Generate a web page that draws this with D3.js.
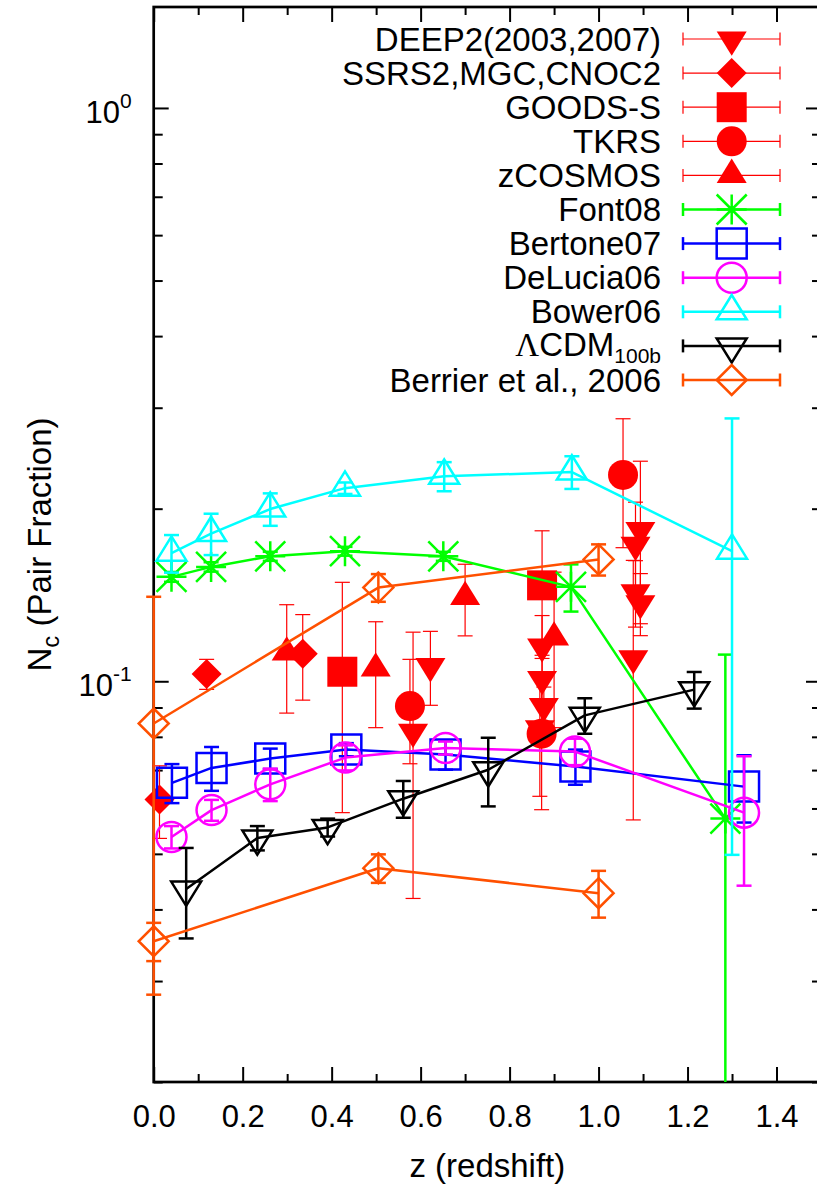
<!DOCTYPE html>
<html>
<head>
<meta charset="utf-8">
<script src="https://cdn.jsdelivr.net/npm/d3@7"></script>
<style>
  body { margin: 0; background: #fff; }
  svg { display: block; }
  text { font-family: "Liberation Sans", Arial, Helvetica, sans-serif; fill: #000; }
</style>
</head>
<body>
<svg id="chart" width="817" height="1185"></svg>
<script>
// Close-pair fraction N_c against redshift: observed samples (filled red symbols)
// and model predictions (open symbols joined by lines).

const zMajorTicks = [0, 0.2, 0.4, 0.6, 0.8, 1.0, 1.2, 1.4];
const zMinorTicks = [0.1, 0.3, 0.5, 0.7, 0.9, 1.1, 1.3];
const nMajorTicks = [0.1, 1];
const nMajorLabels = [["10", "-1"], ["10", "0"]];
const nMinorTicks = [0.02, 0.03, 0.04, 0.05, 0.06, 0.07, 0.08, 0.09,
                     0.2, 0.3, 0.4, 0.5, 0.6, 0.7, 0.8, 0.9];

// Each row: [z, N_c, error]
const deep2 = [
  [0.583, 0.0818, 0.040],
  [0.622, 0.1065, 0.0157],
  [0.873, 0.1152, 0.015],
  [0.873, 0.1011, 0.0085],
  [0.877, 0.0907, 0.007],
  [0.868, 0.0830, 0.020],
  [1.094, 0.184, 0.058],
  [1.083, 0.1733, 0.032],
  [1.083, 0.1433, 0.019],
  [1.094, 0.1371, 0.017],
  [1.078, 0.1099, 0.0526]
];
const ssrsMgcCnoc = [
  [0.013, 0.0622, 0.009],
  [0.119, 0.103, 0.0062],
  [0.335, 0.1117, 0.019]
];
const goodsS = [
  [0.424, 0.1039, 0.0449],
  [0.873, 0.147, 0.036]
];
const tkrs = [
  [0.576, 0.0905, 0.0187],
  [1.055, 0.229, 0.058],
  [0.872, 0.081, 0.0213]
];
const zcosmos = [
  [0.299, 0.112, 0.024],
  [0.499, 0.105, 0.022],
  [0.700, 0.140, 0.020],
  [0.900, 0.119, 0.036]
];
const font08 = [
  [0.040, 0.1521, 0.003],
  [0.129, 0.1583, 0.003],
  [0.262, 0.1652, 0.003],
  [0.430, 0.1686, 0.003],
  [0.651, 0.1652, 0.003],
  [0.938, 0.1461, 0.0138],
  [1.285, 0.0576, 0.0537]
];
const bertone07 = [
  [0.041, 0.0665, 0.0052],
  [0.130, 0.0706, 0.0062],
  [0.262, 0.0733, 0.003],
  [0.433, 0.0760, 0.002],
  [0.656, 0.0745, 0.0044],
  [0.948, 0.0710, 0.005],
  [1.327, 0.0655, 0.0088]
];
const deLucia06 = [
  [0.040, 0.0535, 0.0024],
  [0.130, 0.0596, 0.0025],
  [0.262, 0.0661, 0.0043],
  [0.431, 0.0736, 0.0037],
  [0.656, 0.0765, 0.002],
  [0.947, 0.0754, 0.004],
  [1.327, 0.0590, 0.015]
];
const bower06 = [
  [0.040, 0.1673, 0.0126],
  [0.129, 0.1810, 0.015],
  [0.262, 0.1997, 0.013],
  [0.430, 0.2172, 0.005],
  [0.653, 0.2278, 0.0133],
  [0.940, 0.2317, 0.0152],
  [1.300, 0.1686, 0.1188]
];
const lcdm100b = [
  [0.073, 0.0434, 0.0078],
  [0.233, 0.0533, 0.0026],
  [0.391, 0.0556, 0.002],
  [0.561, 0.0624, 0.0046],
  [0.752, 0.0701, 0.0096],
  [0.969, 0.0872, 0.0062],
  [1.215, 0.0967, 0.0071]
];
const berrierHigh = [
  [0.000, 0.0844, 0.056],
  [0.505, 0.1457, 0.0081],
  [1.000, 0.1631, 0.0102]
];
const berrierLow = [
  [0.000, 0.0352, 0.0027],
  [0.505, 0.0472, 0.0027],
  [1.000, 0.0427, 0.004]
];

const RED = "#ff0000", GREEN = "#00ff00", BLUE = "#0000ff",
      MAGENTA = "#ff00ff", CYAN = "#00ffff", BLACK = "#000000", ORANGE = "#ff5000";

const series = [
  { label: "DEEP2(2003,2007)", data: deep2, shape: "triDown", color: RED, filled: true, joined: false },
  { label: "SSRS2,MGC,CNOC2", data: ssrsMgcCnoc, shape: "diamond", color: RED, filled: true, joined: false },
  { label: "GOODS-S", data: goodsS, shape: "square", color: RED, filled: true, joined: false },
  { label: "TKRS", data: tkrs, shape: "circle", color: RED, filled: true, joined: false },
  { label: "zCOSMOS", data: zcosmos, shape: "triUp", color: RED, filled: true, joined: false },
  { label: "Font08", data: font08, shape: "star", color: GREEN, filled: false, joined: true },
  { label: "Bertone07", data: bertone07, shape: "square", color: BLUE, filled: false, joined: true },
  { label: "DeLucia06", data: deLucia06, shape: "circle", color: MAGENTA, filled: false, joined: true },
  { label: "Bower06", data: bower06, shape: "triUp", color: CYAN, filled: false, joined: true },
  { label: ["\u039B", "CDM", "100b"], data: lcdm100b, shape: "triDown", color: BLACK, filled: false, joined: true },
  { label: "Berrier et al., 2006", data: berrierHigh, shape: "diamond", color: ORANGE, filled: false, joined: true },
  { label: null, data: berrierLow, shape: "diamond", color: ORANGE, filled: false, joined: true }
];

// ---- geometry ----
const plotLeft = 153.7, plotRight = 821, plotTop = 7, plotBottom = 1082;
const x = d3.scaleLinear().domain([0, 1.5]).range([plotLeft, plotRight]);
const y = d3.scaleLog().domain([0.02, 1.5]).range([plotBottom, plotTop]);

const MS = 15;          // symbol half size
const CAP = 7.5;        // error bar cap half width
const shapes = {
  triDown: s => `M0,${1.12 * s}L${-s},${-0.5 * s}L${s},${-0.5 * s}Z`,
  triUp:   s => `M0,${-1.12 * s}L${-s},${0.5 * s}L${s},${0.5 * s}Z`,
  diamond: s => `M0,${-s}L${s},0L0,${s}L${-s},0Z`,
  square:  s => `M${-s},${-s}H${s}V${s}H${-s}Z`,
  circle:  s => `M${s},0A${s},${s} 0 1,1 ${-s},0A${s},${s} 0 1,1 ${s},0Z`,
  star:    s => `M${-s},0H${s}M0,${-s}V${s}M${-s},${-s}L${s},${s}M${-s},${s}L${s},${-s}`
};

const svg = d3.select("#chart");
svg.append("rect").attr("width", 817).attr("height", 1185).attr("fill", "#fff");

// ---- axes (ticks point inward, mirrored on all four sides) ----
const axisG = svg.append("g");
function styleAxis(g) {
  g.select(".domain").remove();
  g.selectAll(".tick line").attr("stroke", "#000").attr("stroke-width", 2);
}
axisG.append("g").attr("transform", `translate(0,${plotBottom})`)
  .call(d3.axisBottom(x).tickValues(zMajorTicks).tickSize(-15).tickPadding(23)
        .tickFormat(d3.format(".1f")))
  .call(styleAxis)
  .call(g => g.selectAll("text").attr("font-size", 31).attr("font-family", null));
axisG.append("g").attr("transform", `translate(0,${plotBottom})`)
  .call(d3.axisBottom(x).tickValues(zMinorTicks).tickSize(-8).tickFormat(""))
  .call(styleAxis);
axisG.append("g").attr("transform", `translate(0,${plotTop})`)
  .call(d3.axisTop(x).tickValues(zMajorTicks).tickSize(-15).tickFormat(""))
  .call(styleAxis);
axisG.append("g").attr("transform", `translate(0,${plotTop})`)
  .call(d3.axisTop(x).tickValues(zMinorTicks).tickSize(-8).tickFormat(""))
  .call(styleAxis);

const yMajor = axisG.append("g").attr("transform", `translate(${plotLeft},0)`)
  .call(d3.axisLeft(y).tickValues(nMajorTicks).tickSize(-15).tickFormat(""))
  .call(styleAxis);
yMajor.selectAll(".tick").each(function (d, i) {
  const t = d3.select(this).append("text")
    .attr("x", -22).attr("y", 14.5).attr("text-anchor", "end")
    .attr("font-size", 31).attr("fill", "#000");
  t.append("tspan").text(nMajorLabels[i][0]);
  t.append("tspan").attr("dy", -15).attr("font-size", 21).text(nMajorLabels[i][1]);
});
axisG.append("g").attr("transform", `translate(${plotLeft},0)`)
  .call(d3.axisLeft(y).tickValues(nMinorTicks).tickSize(-9).tickFormat(""))
  .call(styleAxis);
axisG.append("g").attr("transform", `translate(${plotRight},0)`)
  .call(d3.axisRight(y).tickValues(nMajorTicks).tickSize(-15).tickFormat(""))
  .call(styleAxis);
axisG.append("g").attr("transform", `translate(${plotRight},0)`)
  .call(d3.axisRight(y).tickValues(nMinorTicks).tickSize(-9).tickFormat(""))
  .call(styleAxis);

// border
axisG.append("rect")
  .attr("x", plotLeft).attr("y", plotTop)
  .attr("width", plotRight - plotLeft).attr("height", plotBottom - plotTop)
  .attr("fill", "none").attr("stroke", "#000").attr("stroke-width", 2.7);

// axis titles
svg.append("text")
  .attr("x", (plotLeft + plotRight) / 2).attr("y", 1177)
  .attr("text-anchor", "middle").attr("font-size", 33)
  .text("z (redshift)");
const yTitle = svg.append("text")
  .attr("transform", `translate(51,${(plotTop + plotBottom) / 2}) rotate(-90)`)
  .attr("text-anchor", "middle").attr("font-size", 33);
yTitle.append("tspan").text("N");
yTitle.append("tspan").attr("dy", 8).attr("font-size", 24).text("c");
yTitle.append("tspan").attr("dy", -8).text(" (Pair Fraction)");

// ---- data ----
const plot = svg.append("g");
const line = d3.line().x(d => x(d[0])).y(d => y(d[1]));
const yMin = y.domain()[0];

series.forEach(s => {
  const g = plot.append("g");
  const w = s.filled ? 1.2 : 2.5;
  if (s.joined) {
    g.append("path").datum(s.data).attr("d", line)
      .attr("fill", "none").attr("stroke", s.color).attr("stroke-width", 2.5)
      .attr("stroke-linejoin", "round");
  }
  s.data.forEach(d => {
    const cx = x(d[0]);
    const hi = y(d[1] + d[2]);
    const lowVal = d[1] - d[2];
    const clipped = lowVal <= yMin;
    const lo = clipped ? y(yMin) : y(lowVal);
    const eb = g.append("g").attr("stroke", s.color).attr("stroke-width", w);
    eb.append("line").attr("x1", cx).attr("x2", cx).attr("y1", hi).attr("y2", lo);
    eb.append("line").attr("x1", cx - CAP).attr("x2", cx + CAP).attr("y1", hi).attr("y2", hi);
    if (!clipped) {
      eb.append("line").attr("x1", cx - CAP).attr("x2", cx + CAP).attr("y1", lo).attr("y2", lo);
    }
  });
  g.selectAll("path.sym").data(s.data).join("path")
    .attr("class", "sym")
    .attr("transform", d => `translate(${x(d[0])},${y(d[1])})`)
    .attr("d", shapes[s.shape](MS))
    .attr("fill", s.filled ? s.color : "none")
    .attr("stroke", s.color)
    .attr("stroke-width", s.filled ? 0 : 2.5);
});

// ---- key ----
const key = svg.append("g");
const keyRow0 = 39, keyStep = 34.1, keyTextX = 661;
const keyLineX1 = 683, keyLineX2 = 780, keySymX = 731.7;
series.filter(s => s.label).forEach((s, i) => {
  const ry = keyRow0 + keyStep * i;
  const g = key.append("g");
  const t = g.append("text").attr("x", keyTextX).attr("text-anchor", "end").attr("font-size", 33);
  if (Array.isArray(s.label)) {
    t.attr("y", ry + 10.5);
    t.append("tspan").attr("font-family", "'Liberation Serif', 'DejaVu Serif', serif").text(s.label[0]);
    t.append("tspan").text(s.label[1]);
    t.append("tspan").attr("dy", 7).attr("font-size", 21).text(s.label[2]);
  } else {
    t.attr("y", ry + 11.5).text(s.label);
  }
  const w = s.filled ? 1.2 : 2.5;
  const eb = g.append("g").attr("stroke", s.color).attr("stroke-width", w);
  eb.append("line").attr("x1", keyLineX1).attr("x2", keyLineX2).attr("y1", ry).attr("y2", ry);
  eb.append("line").attr("x1", keyLineX1).attr("x2", keyLineX1).attr("y1", ry - 6.5).attr("y2", ry + 6.5);
  eb.append("line").attr("x1", keyLineX2).attr("x2", keyLineX2).attr("y1", ry - 6.5).attr("y2", ry + 6.5);
  g.append("path")
    .attr("transform", `translate(${keySymX},${ry})`)
    .attr("d", shapes[s.shape](MS))
    .attr("fill", s.filled ? s.color : "none")
    .attr("stroke", s.color)
    .attr("stroke-width", s.filled ? 0 : 2.5);
});
</script>
</body>
</html>
